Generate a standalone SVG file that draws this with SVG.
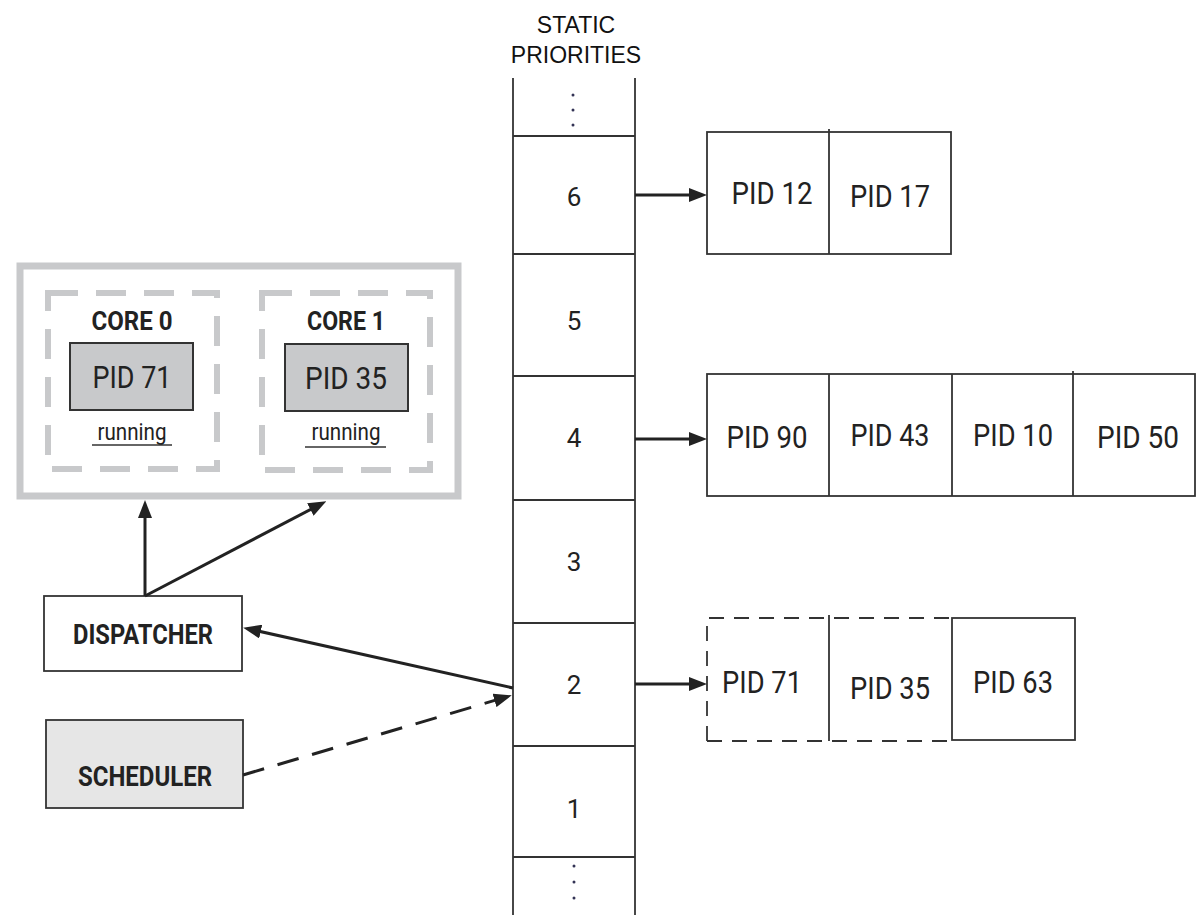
<svg xmlns="http://www.w3.org/2000/svg" width="1197" height="915" viewBox="0 0 1197 915">
  <style>
    .box { fill: #ffffff; stroke: #333333; stroke-width: 1.8; }
    .run { fill: #c8c9cb; stroke: #333333; stroke-width: 2; }
    .sched { fill: #e6e6e6; stroke: #333333; stroke-width: 1.8; }
    .frame { fill: none; stroke: #c8c9cb; stroke-width: 7; }
    .core { fill: none; stroke: #c8c9cb; stroke-width: 6; stroke-dasharray: 30 18; }
    .rule { stroke: #333333; stroke-width: 1.8; fill: none; }
    .dash { stroke: #333333; stroke-width: 1.8; fill: none; stroke-dasharray: 15 10; }
    .conn { stroke: #222222; stroke-width: 3; fill: none; }
    .conn-d { stroke: #222222; stroke-width: 3; fill: none; stroke-dasharray: 22 14; }
    .title { font-family: "Liberation Sans", Arial, sans-serif; font-size: 23px; fill: #111111; text-anchor: middle; }
    .pid { font-family: Roboto, "Liberation Sans", sans-serif; font-size: 31px; fill: #222222; text-anchor: middle; }
    .num { font-family: Roboto, "Liberation Sans", sans-serif; font-size: 26px; fill: #222222; text-anchor: middle; }
    .lbl { font-family: Roboto, "Liberation Sans", sans-serif; font-weight: bold; fill: #222222; text-anchor: middle; }
    .small { font-family: Roboto, "Liberation Sans", sans-serif; font-size: 24px; fill: #222222; text-anchor: middle; }
    .dot { fill: #333355; }
  </style>
  <defs>
    <marker id="ah" viewBox="0 0 18 14" refX="12" refY="7" markerWidth="18" markerHeight="14" orient="auto" markerUnits="userSpaceOnUse">
      <path d="M0,0 L18,7 L0,14 Z" fill="#222222"/>
    </marker>
  </defs>

  <rect width="1197" height="915" fill="#ffffff"/>

  <!-- priority table -->
  <g id="priorities">
    <text class="title" x="576" y="33">STATIC</text>
    <text class="title" x="576" y="63">PRIORITIES</text>
    <line class="rule" x1="513" y1="78" x2="513" y2="915"/>
    <line class="rule" x1="635" y1="78" x2="635" y2="915"/>
    <line class="rule" x1="513" y1="136" x2="635" y2="136"/>
    <line class="rule" x1="513" y1="254" x2="635" y2="254"/>
    <line class="rule" x1="513" y1="376" x2="635" y2="376"/>
    <line class="rule" x1="513" y1="500" x2="635" y2="500"/>
    <line class="rule" x1="513" y1="623" x2="635" y2="623"/>
    <line class="rule" x1="513" y1="746" x2="635" y2="746"/>
    <line class="rule" x1="513" y1="857" x2="635" y2="857"/>
    <circle class="dot" cx="573" cy="95" r="1.5"/>
    <circle class="dot" cx="573" cy="110" r="1.5"/>
    <circle class="dot" cx="573" cy="125" r="1.5"/>
    <text class="num" x="574" y="206">6</text>
    <text class="num" x="574" y="330">5</text>
    <text class="num" x="574" y="447">4</text>
    <text class="num" x="574" y="571">3</text>
    <text class="num" x="574" y="694">2</text>
    <text class="num" x="574" y="818">1</text>
    <circle class="dot" cx="574" cy="866" r="1.5"/>
    <circle class="dot" cx="574" cy="882" r="1.5"/>
    <circle class="dot" cx="574" cy="898" r="1.5"/>
  </g>

  <!-- ready queue, priority 6 -->
  <g id="queue6">
    <rect class="box" x="707" y="132" width="244" height="122"/>
    <line class="rule" x1="829" y1="129" x2="829" y2="254"/>
    <text class="pid" x="772" y="204" textLength="81" lengthAdjust="spacingAndGlyphs">PID 12</text>
    <text class="pid" x="890" y="207" textLength="80" lengthAdjust="spacingAndGlyphs">PID 17</text>
  </g>

  <!-- ready queue, priority 4 -->
  <g id="queue4">
    <rect class="box" x="707" y="374" width="488" height="122"/>
    <line class="rule" x1="829" y1="374" x2="829" y2="496"/>
    <line class="rule" x1="952" y1="374" x2="952" y2="496"/>
    <line class="rule" x1="1073" y1="371" x2="1073" y2="496"/>
    <text class="pid" x="767" y="448" textLength="81" lengthAdjust="spacingAndGlyphs">PID 90</text>
    <text class="pid" x="890" y="446" textLength="79" lengthAdjust="spacingAndGlyphs">PID 43</text>
    <text class="pid" x="1013" y="446" textLength="80" lengthAdjust="spacingAndGlyphs">PID 10</text>
    <text class="pid" x="1138" y="448" textLength="82" lengthAdjust="spacingAndGlyphs">PID 50</text>
  </g>

  <!-- ready queue, priority 2 (first two entries are running) -->
  <g id="queue2">
    <path class="dash" d="M707,741 V618 H952"/>
    <line class="dash" x1="707" y1="741" x2="952" y2="741"/>
    <line class="rule" x1="829" y1="615" x2="829" y2="741"/>
    <rect class="box" x="952" y="618" width="123" height="122"/>
    <text class="pid" x="762" y="693" textLength="80" lengthAdjust="spacingAndGlyphs">PID 71</text>
    <text class="pid" x="890" y="699" textLength="80" lengthAdjust="spacingAndGlyphs">PID 35</text>
    <text class="pid" x="1013" y="693" textLength="80" lengthAdjust="spacingAndGlyphs">PID 63</text>
  </g>

  <!-- processor with two cores -->
  <g id="cpu">
    <rect class="frame" x="20" y="266" width="438" height="230"/>
  </g>
  <g id="core0">
    <rect class="core" x="48" y="293" width="169" height="176"/>
    <text class="lbl" x="132" y="330" font-size="25" textLength="81" lengthAdjust="spacingAndGlyphs">CORE 0</text>
    <rect class="run" x="70" y="343" width="123" height="67"/>
    <text class="pid" x="132" y="388" textLength="79" lengthAdjust="spacingAndGlyphs">PID 71</text>
    <text class="small" x="132" y="440" textLength="69" lengthAdjust="spacingAndGlyphs">running</text>
    <line x1="92" y1="445" x2="172" y2="445" stroke="#333333" stroke-width="1.6"/>
  </g>
  <g id="core1">
    <rect class="core" x="262" y="293" width="168" height="177"/>
    <text class="lbl" x="346" y="330" font-size="25" textLength="78" lengthAdjust="spacingAndGlyphs">CORE 1</text>
    <rect class="run" x="285" y="344" width="123" height="67"/>
    <text class="pid" x="346" y="389" textLength="82" lengthAdjust="spacingAndGlyphs">PID 35</text>
    <text class="small" x="346" y="440" textLength="69" lengthAdjust="spacingAndGlyphs">running</text>
    <line x1="305" y1="447" x2="386" y2="447" stroke="#333333" stroke-width="1.6"/>
  </g>

  <g id="dispatcher">
    <rect class="box" x="44" y="596" width="198" height="75"/>
    <text class="lbl" x="143" y="644" font-size="27" textLength="140" lengthAdjust="spacingAndGlyphs">DISPATCHER</text>
  </g>

  <g id="scheduler">
    <rect class="sched" x="46" y="720" width="197" height="88"/>
    <text class="lbl" x="145" y="786" font-size="27" textLength="134" lengthAdjust="spacingAndGlyphs">SCHEDULER</text>
  </g>

  <!-- connectors -->
  <g id="connectors">
    <line class="conn" x1="145" y1="596" x2="145" y2="506" marker-end="url(#ah)"/>
    <line class="conn" x1="145" y1="596" x2="321" y2="504" marker-end="url(#ah)"/>
    <line class="conn" x1="513" y1="688" x2="249" y2="629" marker-end="url(#ah)"/>
    <line class="conn-d" x1="243" y1="775" x2="506" y2="697" marker-end="url(#ah)"/>
    <line class="conn" x1="635" y1="195" x2="701" y2="195" marker-end="url(#ah)"/>
    <line class="conn" x1="635" y1="439" x2="701" y2="439" marker-end="url(#ah)"/>
    <line class="conn" x1="635" y1="684" x2="701" y2="684" marker-end="url(#ah)"/>
  </g>
</svg>
